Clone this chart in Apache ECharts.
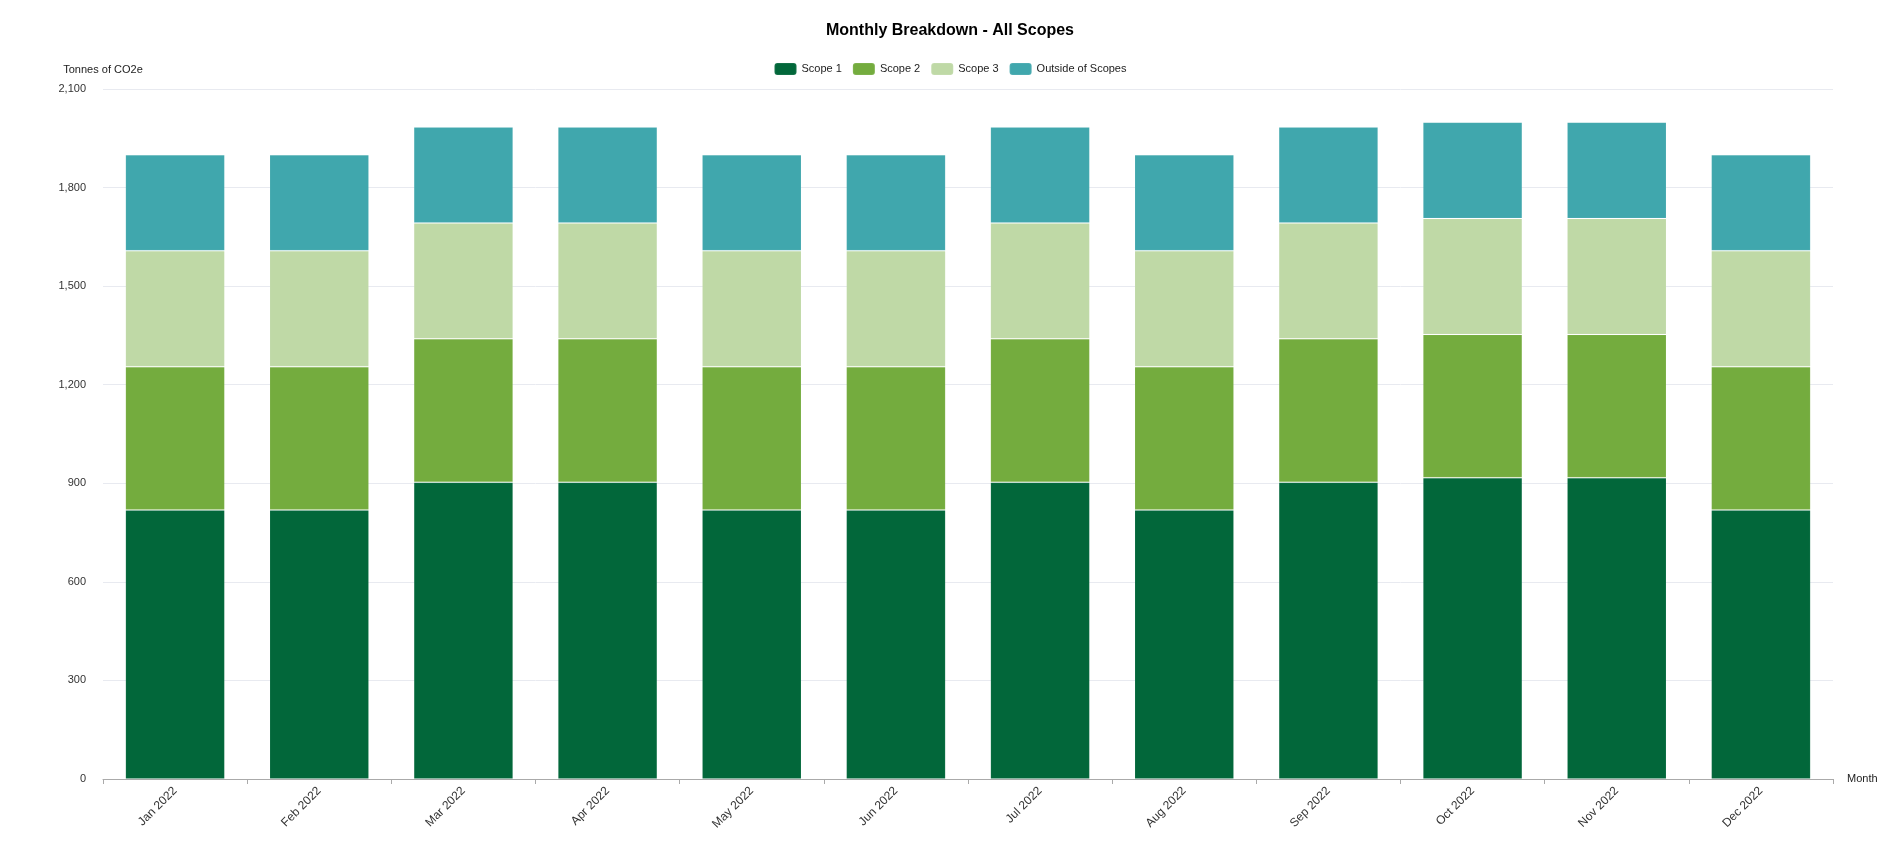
<!DOCTYPE html>
<html>
<head>
<meta charset="utf-8">
<script src="https://cdn.jsdelivr.net/npm/echarts@6/dist/echarts.min.js"></script>
<style>html,body{margin:0;padding:0;background:#fff;}#c{width:1900px;height:850px;}</style>
</head>
<body>
<div id="c"></div>
<script>
const months = ['Jan 2022','Feb 2022','Mar 2022','Apr 2022','May 2022','Jun 2022','Jul 2022','Aug 2022','Sep 2022','Oct 2022','Nov 2022','Dec 2022'];
const scope1 = [819, 819, 903, 903, 819, 819, 903, 819, 903, 917, 917, 819];
const scope2 = [436, 436, 437, 437, 436, 436, 437, 436, 437, 436, 436, 436];
const scope3 = [353, 353, 352, 352, 353, 353, 352, 353, 352, 353, 353, 353];
const outside = [292, 292, 292, 292, 292, 292, 292, 292, 292, 293, 293, 292];
const seriesNames = ['Scope 1','Scope 2','Scope 3','Outside of Scopes'];
const colors = ['#02673a','#74ac3e','#bfd9a6','#40a7ad'];
const yTicks = {min: 0, max: 2100, interval: 300};

const font = 'Helvetica, "Liberation Sans", Arial, sans-serif';
const chart = echarts.init(document.getElementById('c'));
const data = [scope1, scope2, scope3, outside];
chart.setOption({
  animation: false,
  color: colors,
  textStyle: {fontFamily: font},
  title: {
    text: 'Monthly Breakdown - All Scopes',
    left: 'center', top: 18,
    textStyle: {fontSize: 16, fontWeight: 'bold', color: '#000', fontFamily: font}
  },
  legend: {
    top: 57, left: 'center',
    itemWidth: 22, itemHeight: 12, itemGap: 10,
    icon: 'roundRect',
    textStyle: {fontSize: 11, color: '#222', fontFamily: font},
    data: seriesNames
  },
  grid: {left: 103, right: 67, top: 89, bottom: 71, containLabel: false},
  xAxis: {
    type: 'category',
    data: months,
    name: 'Month',
    nameLocation: 'end',
    nameGap: 14,
    nameTextStyle: {fontSize: 11, color: '#222', fontFamily: font},
    axisLine: {lineStyle: {color: '#aaa'}},
    axisTick: {show: true, lineStyle: {color: '#aaa'}},
    axisLabel: {rotate: 45, fontSize: 12, color: '#333', margin: 10, fontFamily: font}
  },
  yAxis: {
    type: 'value',
    min: yTicks.min, max: yTicks.max, interval: yTicks.interval,
    name: 'Tonnes of CO2e',
    nameLocation: 'end',
    nameGap: 14,
    nameTextStyle: {fontSize: 11, color: '#222', align: 'center', fontFamily: font},
    axisLine: {show: false},
    axisTick: {show: false},
    axisLabel: {fontSize: 11, color: '#333', margin: 17, fontFamily: font},
    splitLine: {lineStyle: {color: '#e8eaf0'}}
  },
  series: seriesNames.map((n, i) => ({
    name: n,
    type: 'bar',
    stack: 'total',
    barCategoryGap: '31%',
    data: data[i],
    itemStyle: {color: colors[i], borderColor: 'rgba(255,255,255,0.08)', borderWidth: 1}
  }))
});
</script>
</body>
</html>
